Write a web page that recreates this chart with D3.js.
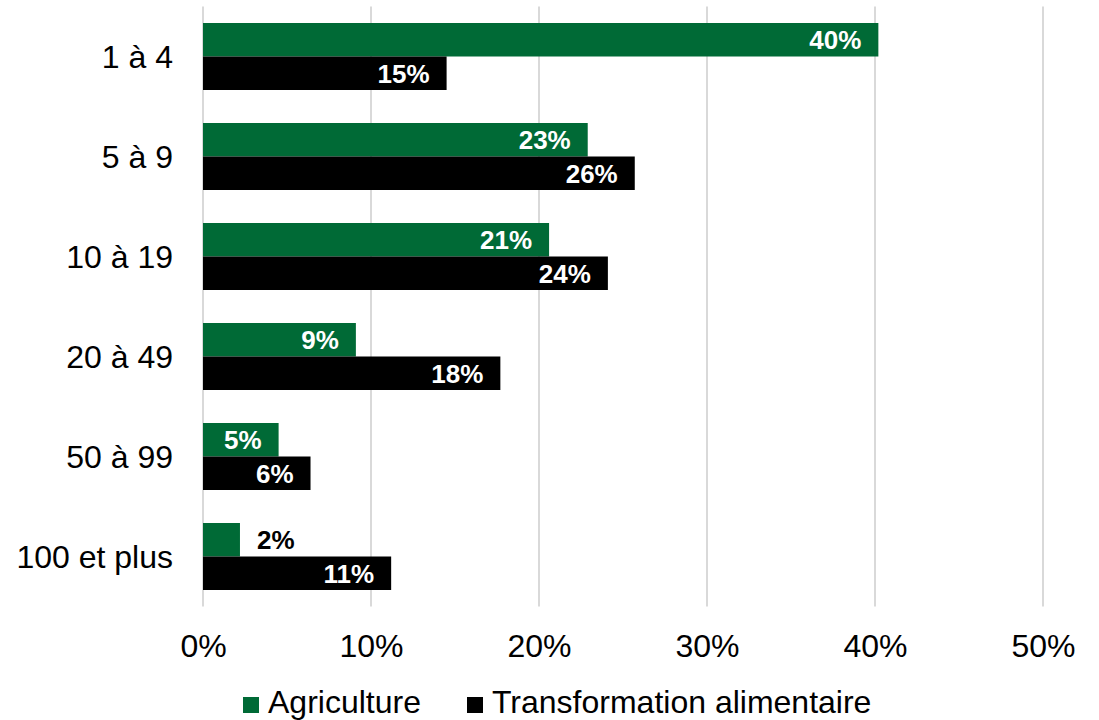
<!DOCTYPE html>
<html>
<head>
<meta charset="utf-8">
<script src="https://cdn.jsdelivr.net/npm/d3@7"></script>
<style>
  html, body { margin: 0; padding: 0; background: #fff; }
  svg { display: block; font-family: "Liberation Sans", Arial, sans-serif; }
</style>
</head>
<body>
<svg id="chart" width="1099" height="720"></svg>
<script>
const categories = ["1 à 4", "5 à 9", "10 à 19", "20 à 49", "50 à 99", "100 et plus"];
const seriesNames = ["Agriculture", "Transformation alimentaire"];
const agriculture = [40.2, 22.9, 20.6, 9.1, 4.5, 2.2];
const transformation = [14.5, 25.7, 24.1, 17.7, 6.4, 11.2];
const agricultureLabels = ["40%", "23%", "21%", "9%", "5%", "2%"];
const transformationLabels = ["15%", "26%", "24%", "18%", "6%", "11%"];
const xTicks = [0, 10, 20, 30, 40, 50];
const colors = ["#006a36", "#000000"];

(function () {
const svg = d3.select("#chart");
const pLeft = 203, pRight = 1043, pTop = 6.5, pBottom = 606.5;

const x = d3.scaleLinear().domain([0, 50]).range([pLeft, pRight]);
const y = d3.scaleBand().domain(categories).range([pTop, pBottom]).paddingInner(0.33).paddingOuter(0.165);
const ys = d3.scaleBand().domain(seriesNames).range([0, y.bandwidth()]);

// gridlines
svg.append("g").selectAll("line").data(xTicks).join("line")
  .attr("x1", d => x(d)).attr("x2", d => x(d))
  .attr("y1", pTop).attr("y2", pBottom)
  .attr("stroke", "#d9d9d9").attr("stroke-width", 2);

// x tick labels
const xAxis = d3.axisBottom(x).tickValues(xTicks).tickFormat(d => d + "%").tickSize(0).tickPadding(0);
const gx = svg.append("g").attr("transform", `translate(0, ${pBottom})`).call(xAxis);
gx.select(".domain").remove();
gx.selectAll("text").attr("font-size", 32).attr("fill", "#000")
  .attr("font-family", "Liberation Sans, Arial, sans-serif")
  .attr("dy", "0.36em").attr("y", 39);

// y labels
const yAxis = d3.axisLeft(y).tickSize(0).tickPadding(30);
const gy = svg.append("g").attr("transform", `translate(${pLeft}, 0)`).call(yAxis);
gy.select(".domain").remove();
gy.selectAll("text").attr("font-size", 32).attr("fill", "#000")
  .attr("font-family", "Liberation Sans, Arial, sans-serif")
  .attr("dy", "0.36em");

const data = [agriculture, transformation];
const labels = [agricultureLabels, transformationLabels];

seriesNames.forEach((s, si) => {
  const g = svg.append("g");
  g.selectAll("rect").data(categories).join("rect")
    .attr("x", x(0))
    .attr("y", c => y(c) + ys(s))
    .attr("width", (c, i) => x(data[si][i]) - x(0))
    .attr("height", ys.bandwidth())
    .attr("fill", colors[si]);
  g.selectAll("text").data(categories).join("text")
    .attr("x", (c, i) => {
      const v = data[si][i];
      return v < 3 ? x(v) + 17 : x(v) - 17;
    })
    .attr("y", c => y(c) + ys(s) + ys.bandwidth() / 2)
    .attr("dy", "0.36em")
    .attr("text-anchor", (c, i) => data[si][i] < 3 ? "start" : "end")
    .attr("font-size", 26).attr("font-weight", "bold")
    .attr("fill", (c, i) => data[si][i] < 3 ? "#000" : "#fff")
    .text((c, i) => labels[si][i]);
});

// legend
const legend = svg.append("g");
const legendPos = [243, 467];
seriesNames.forEach((s, i) => {
  legend.append("rect").attr("x", legendPos[i]).attr("y", 697).attr("width", 16).attr("height", 16).attr("fill", colors[i]);
  legend.append("text").attr("x", legendPos[i] + 25).attr("y", 713)
    .attr("font-size", 32).attr("fill", "#000").text(s);
});
})();
</script>
</body>
</html>
